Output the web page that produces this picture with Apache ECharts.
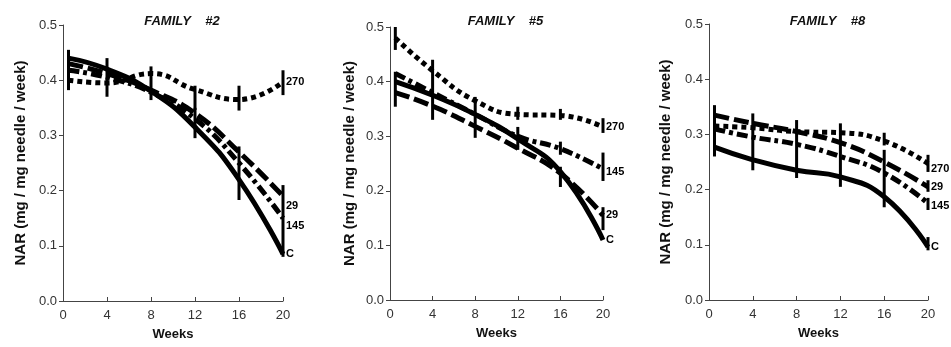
<!DOCTYPE html>
<html>
<head>
<meta charset="utf-8">
<script src="https://cdn.jsdelivr.net/npm/echarts@6/dist/echarts.min.js"></script>
<style>
html,body{margin:0;padding:0;background:#fff;}
#chart{width:951px;height:347px;}
</style>
</head>
<body>
<div id="chart"></div>
<script>
// ---- data ----
var weeks = [0.5, 4, 8, 12, 16, 20];
var xTicks = [0, 4, 8, 12, 16, 20];
var yTicks = [0.0, 0.1, 0.2, 0.3, 0.4, 0.5];
var seriesNames = ['C', '29', '145', '270'];
var panelTitles = ['FAMILY    #2', 'FAMILY    #5', 'FAMILY    #8'];

// Family #2
var f2_C   = [0.440, 0.420, 0.380, 0.315, 0.220, 0.085];
var f2_29  = [0.430, 0.412, 0.382, 0.340, 0.270, 0.190];
var f2_145 = [0.418, 0.405, 0.378, 0.330, 0.250, 0.150];
var f2_270 = [0.400, 0.395, 0.412, 0.383, 0.365, 0.397];
var f2_err = [[0.5,0.382,0.455],[4,0.370,0.440],[8,0.364,0.425],[12,0.346,0.390],[12,0.295,0.350],[16,0.345,0.390],[16,0.183,0.280],[20,0.373,0.418],[20,0.080,0.210]];

// Family #5
var f5_C   = [0.400, 0.375, 0.340, 0.295, 0.235, 0.110];
var f5_29  = [0.380, 0.355, 0.318, 0.278, 0.232, 0.155];
var f5_145 = [0.415, 0.380, 0.340, 0.300, 0.277, 0.240];
var f5_270 = [0.480, 0.420, 0.365, 0.340, 0.338, 0.317];
var f5_err = [[0.5,0.458,0.500],[0.5,0.354,0.418],[4,0.330,0.440],[8,0.297,0.372],[12,0.330,0.354],[12,0.275,0.317],[16,0.330,0.350],[16,0.266,0.290],[16,0.207,0.244],[20,0.306,0.333],[20,0.218,0.270],[20,0.128,0.170]];

// Family #8
var f8_C   = [0.277, 0.254, 0.235, 0.223, 0.187, 0.096];
var f8_29  = [0.335, 0.320, 0.305, 0.285, 0.250, 0.205];
var f8_145 = [0.310, 0.295, 0.282, 0.260, 0.230, 0.175];
var f8_270 = [0.315, 0.312, 0.305, 0.303, 0.288, 0.247];
var f8_err = [[0.5,0.260,0.353],[4,0.235,0.338],[8,0.221,0.326],[12,0.205,0.320],[16,0.280,0.303],[16,0.168,0.272],[20,0.232,0.263],[20,0.196,0.217],[20,0.163,0.185],[20,0.090,0.114]];

var panels = [
  {lines: [f2_C, f2_29, f2_145, f2_270], err: f2_err, labelDy: [0, 10, 8, 0]},
  {lines: [f5_C, f5_29, f5_145, f5_270], err: f5_err, labelDy: [0, 0, 3, 0]},
  {lines: [f8_C, f8_29, f8_145, f8_270], err: f8_err, labelDy: [0, 0, 3, 5]}
];

// ---- layout / style ----
var grids = [
  {left: 63, top: 25, width: 220, height: 276},
  {left: 390, top: 27, width: 213, height: 273},
  {left: 709, top: 24, width: 219, height: 276}
];
var nameGaps = [35, 33, 36];
var lineStyles = [
  {type: 'solid', width: 5},
  {type: [15, 5], width: 5},
  {type: [11, 4, 4, 4], width: 5},
  {type: [5, 4], width: 5}
];
var FONT = '"Liberation Sans", Arial, sans-serif';

function pairs(ys) { return weeks.map(function (w, i) { return [w, ys[i]]; }); }

var option = {
  animation: false,
  backgroundColor: '#fff',
  title: [],
  grid: grids,
  xAxis: [],
  yAxis: [],
  series: []
};

panels.forEach(function (p, gi) {
  var g = grids[gi];
  option.title.push({
    text: panelTitles[gi],
    left: g.left + g.width / 2 + 4,
    top: 10,
    textAlign: 'center',
    textStyle: {fontFamily: FONT, fontSize: 13, fontStyle: 'italic', fontWeight: 'bold', color: '#111'}
  });
  option.xAxis.push({
    type: 'value', gridIndex: gi, min: 0, max: 20, interval: 4,
    name: 'Weeks', nameLocation: 'middle', nameGap: 27,
    nameTextStyle: {fontFamily: FONT, fontSize: 13, fontWeight: 'bold', color: '#111'},
    axisLine: {show: true, lineStyle: {color: '#444', width: 1}},
    axisTick: {show: true, inside: true, length: 4, lineStyle: {color: '#444'}},
    axisLabel: {fontFamily: FONT, fontSize: 13, color: '#333', margin: 8,
      formatter: function (v) { return xTicks.indexOf(v) >= 0 ? String(v) : ''; }},
    splitLine: {show: false}
  });
  option.yAxis.push({
    type: 'value', gridIndex: gi, min: 0, max: 0.5, interval: 0.1,
    name: 'NAR (mg / mg needle / week)', nameLocation: 'middle', nameGap: nameGaps[gi], nameRotate: 90,
    nameTextStyle: {fontFamily: FONT, fontSize: 15, fontWeight: 'bold', color: '#111'},
    axisLine: {show: true, lineStyle: {color: '#444', width: 1}},
    axisTick: {show: true, length: 4, lineStyle: {color: '#444'}},
    axisLabel: {fontFamily: FONT, fontSize: 13, color: '#333', margin: 6,
      formatter: function (v) {
        for (var i = 0; i < yTicks.length; i++) if (Math.abs(yTicks[i] - v) < 1e-6) return yTicks[i].toFixed(1);
        return '';
      }},
    splitLine: {show: false}
  });
  p.lines.forEach(function (ys, si) {
    option.series.push({
      type: 'line', name: seriesNames[si], xAxisIndex: gi, yAxisIndex: gi,
      data: pairs(ys), smooth: 0.5, showSymbol: false, symbol: 'none',
      lineStyle: {color: '#000', width: lineStyles[si].width, type: lineStyles[si].type, cap: 'butt'},
      endLabel: {show: true, formatter: seriesNames[si], distance: 3, offset: [0, p.labelDy[si]],
        fontFamily: FONT, fontSize: 11, fontWeight: 'bold', color: '#000'},
      z: 3
    });
  });
  option.series.push({
    type: 'custom', xAxisIndex: gi, yAxisIndex: gi,
    data: p.err,
    renderItem: function (params, api) {
      var a = api.coord([api.value(0), api.value(1)]);
      var b = api.coord([api.value(0), api.value(2)]);
      return {type: 'line', shape: {x1: a[0], y1: a[1], x2: b[0], y2: b[1]},
        style: {stroke: '#000', lineWidth: 3}};
    },
    z: 4
  });
});

var chart = echarts.init(document.getElementById('chart'), null, {renderer: 'canvas'});
chart.setOption(option);
</script>
</body>
</html>
